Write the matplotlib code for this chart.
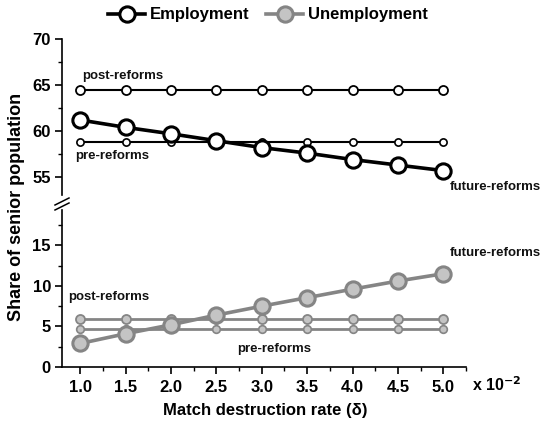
import matplotlib
matplotlib.use("Agg")
import matplotlib.pyplot as plt
from matplotlib.lines import Line2D
from matplotlib.ticker import MultipleLocator, FixedLocator

plt.rcParams['font.family'] = ['Liberation Sans', 'DejaVu Sans']
plt.rcParams['font.weight'] = 'bold'

# Match destruction rate (x 10^-2)
delta = [1.0, 1.5, 2.0, 2.5, 3.0, 3.5, 4.0, 4.5, 5.0]

emp_future = [61.2, 60.4, 59.7, 58.95, 58.2, 57.6, 56.9, 56.3, 55.7]
emp_post = [64.5] * 9
emp_pre = [58.8] * 9

unemp_future = [2.9, 4.1, 5.2, 6.4, 7.5, 8.55, 9.6, 10.6, 11.5]
unemp_post = [5.9] * 9
unemp_pre = [4.7] * 9

dark = 'black'
grey_line = '#858585'
grey_fill = '#c4c4c4'

fig = plt.figure(figsize=(5.42, 4.26), dpi=100)
L, R = 62 / 542, 466 / 542
y_top, y_mid, y_bot = 1 - 39 / 426, 1 - 204 / 426, 1 - 367 / 426
ax_top = fig.add_axes([L, y_mid, R - L, y_top - y_mid])
ax_bot = fig.add_axes([L, y_bot, R - L, y_mid - y_bot])

# Employment panel
ax_top.plot(delta, emp_post, color=dark, lw=1.5, marker='o', ms=6.5,
            mfc='white', mec=dark, mew=1.3, zorder=3)
ax_top.plot(delta, emp_pre, color=dark, lw=1.5, marker='o', ms=5.2,
            mfc='white', mec=dark, mew=1.2, zorder=3)
ax_top.plot(delta, emp_future, color=dark, lw=2.6, marker='o', ms=11,
            mfc='white', mec=dark, mew=2.2, zorder=4)
ax_top.set_ylim(52.07, 70)
ax_top.yaxis.set_major_locator(FixedLocator([55, 60, 65, 70]))
ax_top.yaxis.set_minor_locator(FixedLocator([57.5, 62.5, 67.5]))

# Unemployment panel
ax_bot.plot(delta, unemp_post, color=grey_line, lw=2.0, marker='o', ms=6.5,
            mfc=grey_fill, mec=grey_line, mew=1.3, zorder=3)
ax_bot.plot(delta, unemp_pre, color=grey_line, lw=2.0, marker='o', ms=5.5,
            mfc=grey_fill, mec=grey_line, mew=1.2, zorder=3)
ax_bot.plot(delta, unemp_future, color=grey_line, lw=2.6, marker='o', ms=11,
            mfc=grey_fill, mec=grey_line, mew=2.2, zorder=4)
ax_bot.set_ylim(0, 20.1)
ax_bot.yaxis.set_major_locator(FixedLocator([0, 5, 10, 15]))
ax_bot.yaxis.set_minor_locator(FixedLocator([2.5, 7.5, 12.5, 17.5]))

for ax in (ax_top, ax_bot):
    ax.set_xlim(0.8, 5.25)
    ax.patch.set_alpha(0)
    for s in ('top', 'right'):
        ax.spines[s].set_visible(False)
    ax.spines['left'].set_linewidth(1.2)
    ax.tick_params(axis='y', which='major', direction='out', length=5,
                   width=1.2, labelsize=12, pad=3)
    ax.tick_params(axis='y', which='minor', direction='out', length=3, width=1.0)
    for lab in ax.get_yticklabels():
        lab.set_fontweight('bold')

ax_top.spines['bottom'].set_visible(False)
ax_top.tick_params(axis='x', which='both', bottom=False, labelbottom=False)

ax_bot.spines['bottom'].set_linewidth(1.2)
ax_bot.set_xticks(delta)
ax_bot.set_xticklabels([f"{v:.1f}" for v in delta])
ax_bot.xaxis.set_minor_locator(MultipleLocator(0.25))
ax_bot.tick_params(axis='x', which='major', direction='out', length=5,
                   width=1.2, labelsize=12, pad=4)
ax_bot.tick_params(axis='x', which='minor', direction='out', length=3, width=1.0)
for lab in ax_bot.get_xticklabels():
    lab.set_fontweight('bold')

# Break mark on the y axis
ax_top.spines['left'].set_bounds(53.0, 70)
ax_bot.spines['left'].set_bounds(0, 19.4)
fx0, fx1 = 55 / 542, 69 / 542
for yy in (199, 204):
    fig.add_artist(Line2D([fx0, fx1], [1 - (yy + 6) / 426, 1 - (yy - 1) / 426],
                          color='black', lw=1.1, transform=fig.transFigure))

# Curve annotations
ann = dict(fontsize=9.5, fontweight='bold', color='#111111')
ax_top.text(1.02, 65.3, 'post-reforms', ha='left', va='bottom', **ann)
ax_top.text(0.95, 57.9, 'pre-reforms', ha='left', va='top', **ann)
ax_top.text(5.07, 54.6, 'future-reforms', ha='left', va='top', **ann)
ax_bot.text(5.07, 14.0, 'future-reforms', ha='left', va='center', **ann)
ax_bot.text(0.87, 8.6, 'post-reforms', ha='left', va='center', **ann)
ax_bot.text(2.73, 2.2, 'pre-reforms', ha='left', va='center', **ann)

# Axis labels
fig.text(17 / 542, 1 - 207 / 426, 'Share of senior population', rotation=90,
         ha='center', va='center', fontsize=13, fontweight='bold')
fig.text(265 / 542, 1 - 411 / 426, 'Match destruction rate (δ)',
         ha='center', va='center', fontsize=12, fontweight='bold')
fig.text(472 / 542, 1 - 385 / 426, r'x 10$^{\mathbf{-2}}$', ha='left',
         va='center', fontsize=11.5, fontweight='bold')

# Legend
handles = [
    Line2D([], [], color=dark, lw=2.6, marker='o', ms=11, mfc='white',
           mec=dark, mew=2.2, label='Employment'),
    Line2D([], [], color=grey_line, lw=2.6, marker='o', ms=11, mfc=grey_fill,
           mec=grey_line, mew=2.2, label='Unemployment'),
]
fig.legend(handles=handles, loc='center', bbox_to_anchor=(268 / 542, 1 - 15 / 426),
           ncol=2, frameon=False, prop={'weight': 'bold', 'size': 12},
           handlelength=2.2, columnspacing=1.0, handletextpad=0.3)

fig.savefig('out.png', dpi=100)
